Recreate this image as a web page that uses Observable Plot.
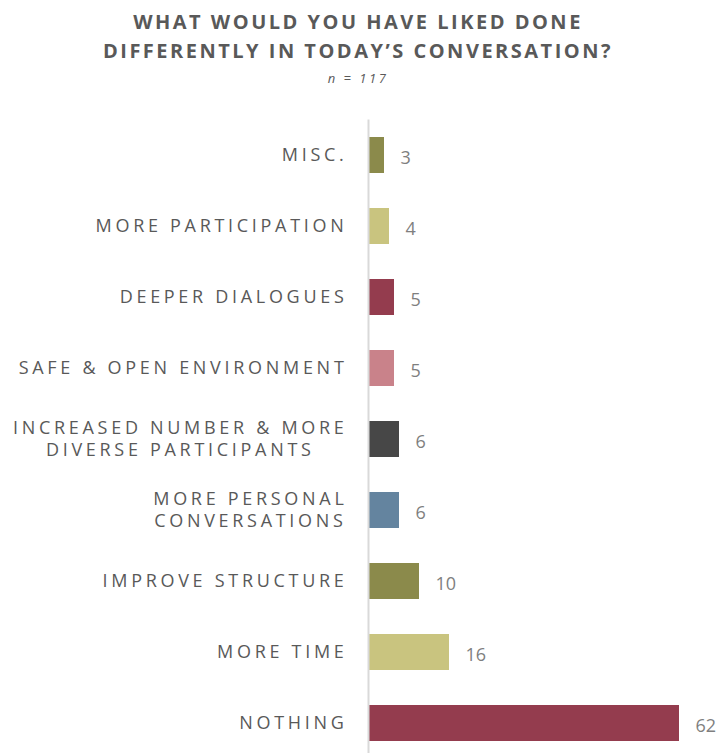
<!DOCTYPE html>
<html>
<head>
<meta charset="utf-8">
<script src="https://cdn.jsdelivr.net/npm/d3@7"></script>
<script src="https://cdn.jsdelivr.net/npm/@observablehq/plot@0.6"></script>
<style>
  html, body { margin: 0; padding: 0; background: #fff; overflow: hidden; }
  body { width: 716px; font-family: "Open Sans", sans-serif; }
  #title { height: 90px; text-align: center; color: #595959; }
  #title .t { font-weight: bold; font-size: 20px; letter-spacing: 2.5px; line-height: 29px; padding-top: 7px; }
  #title .n { font-style: italic; font-size: 13px; letter-spacing: 2.5px; line-height: 18px; margin-top: 4px; }
  #chart svg [aria-label="y-axis tick label"] text { letter-spacing: 3.7px; }
</style>
</head>
<body>
<div id="title">
  <div class="t">WHAT WOULD YOU HAVE LIKED DONE<br>DIFFERENTLY IN TODAY’S CONVERSATION?</div>
  <div class="n">n = 117</div>
</div>
<div id="chart"></div>
<script>
const categories = [
  "MISC.",
  "MORE PARTICIPATION",
  "DEEPER DIALOGUES",
  "SAFE & OPEN ENVIRONMENT",
  "INCREASED NUMBER & MORE\nDIVERSE PARTICIPANTS",
  "MORE PERSONAL\nCONVERSATIONS",
  "IMPROVE STRUCTURE",
  "MORE TIME",
  "NOTHING"
];
const counts = [3, 4, 5, 5, 6, 6, 10, 16, 62];
const colors = ["#8b8a4b", "#c9c47f", "#943c4e", "#c9828a", "#474747", "#64849f", "#8b8a4b", "#c9c47f", "#943c4e"];

const data = categories.map((c, i) => ({category: c, value: counts[i], color: colors[i]}));

const chart = Plot.plot({
  width: 716,
  height: 669,
  marginTop: 29.5,
  marginBottom: 0,
  marginLeft: 369,
  marginRight: 37,
  style: {fontFamily: "'Open Sans', sans-serif", overflow: "visible"},
  x: {domain: [0, 62], axis: null},
  y: {domain: categories, paddingInner: 0.49, paddingOuter: 0.245, axis: null},
  marks: [
    Plot.barX(data, {x: "value", y: "category", fill: "color"}),
    Plot.ruleX([0], {stroke: "#d9d9d9", strokeWidth: 2, dx: -1}),
    Plot.axisY({
      label: null,
      tickSize: 0,
      tickPadding: 0,
      dx: -22,
      dy: -2,
      fontSize: 18,
      lineHeight: 1.22,
      fill: "#595959",
      fillOpacity: 1
    }),
    Plot.text(data, {
      x: "value",
      y: "category",
      text: d => String(d.value),
      textAnchor: "start",
      dx: 16,
      dy: 3,
      fontSize: 18,
      fill: "#7f7f7f"
    })
  ]
});
document.getElementById("chart").appendChild(chart);

// center the lines of multi-line category labels on each other
chart.querySelectorAll('[aria-label="y-axis tick label"] text').forEach(t => {
  const spans = Array.from(t.querySelectorAll("tspan"));
  if (spans.length < 2) return;
  const widths = spans.map(s => s.getComputedTextLength());
  const maxW = Math.max(...widths);
  spans.forEach((s, i) => s.setAttribute("x", -(maxW - widths[i]) / 2));
});
</script>
</body>
</html>
